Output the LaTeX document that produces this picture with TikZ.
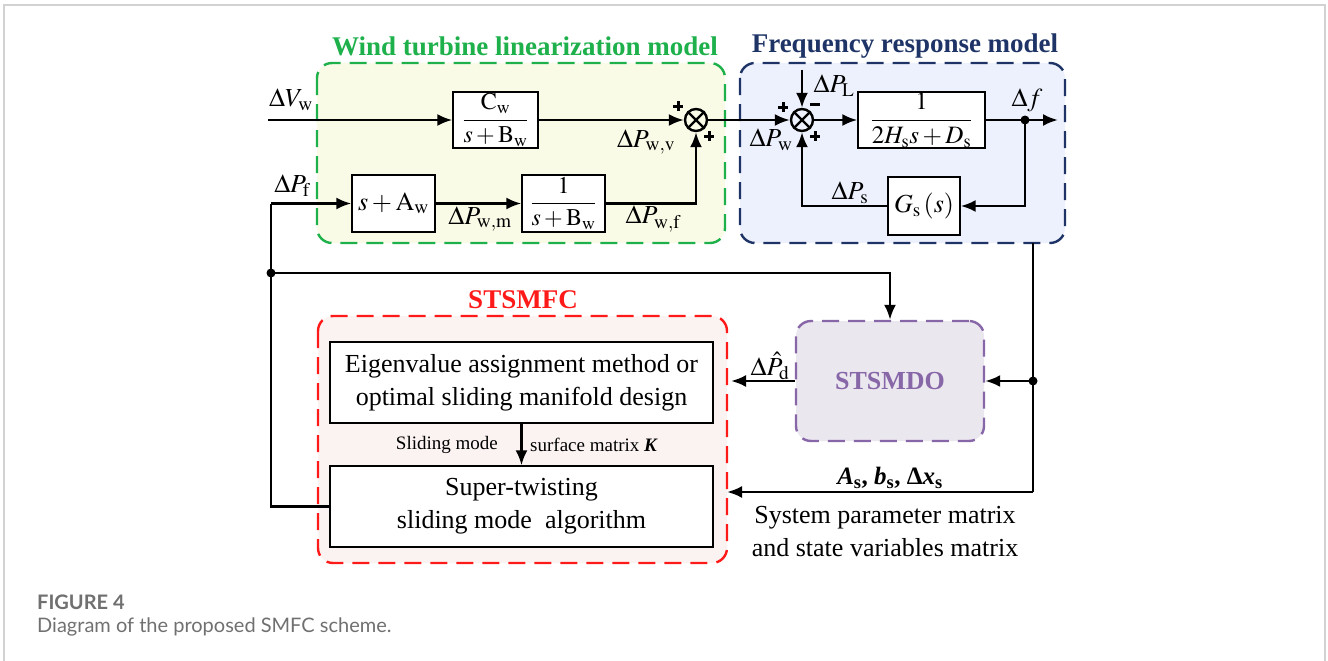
\documentclass[tikz,border=0pt]{standalone}
\usepackage{mathptmx}
\usepackage[no-math]{fontspec}
\setmainfont{Liberation Serif}
\newfontfamily\capfont{Lato}
\usetikzlibrary{arrows.meta}

\definecolor{wtgreen}{HTML}{1DB04B}
\definecolor{frnavy}{HTML}{1F3466}
\definecolor{smred}{HTML}{FF1A1A}
\definecolor{dopurple}{HTML}{8767A8}
\definecolor{wtfill}{HTML}{FAFBE7}
\definecolor{frfill}{HTML}{EDF1FD}
\definecolor{smfill}{HTML}{FBF3F2}
\definecolor{dofill}{HTML}{EBE7EF}
\definecolor{capgray}{HTML}{707070}
\definecolor{framegray}{HTML}{D2D2D2}

\tikzset{
  wire/.style={line width=2.5pt, line join=miter},
  sig/.style={wire, -{Latex[length=15pt,width=12pt]}},
  blk/.style={draw, line width=1.4pt, fill=white, inner sep=0pt, align=center},
  grp/.style={line width=2.4pt, dash pattern=on 17pt off 9pt, rounded corners=15pt},
  sumnode/.style={circle, draw, line width=2.4pt, minimum size=22pt, inner sep=0pt, fill=none},
  dot/.style={circle, fill, inner sep=0pt, minimum size=9pt},
  lbl/.style={inner sep=0pt, font=\fontsize{26}{28}\selectfont},
  ttl/.style={inner sep=0pt, font=\fontsize{27}{30}\selectfont\bfseries},
  txt/.style={inner sep=0pt, align=center, font=\fontsize{26}{33}\selectfont},
  plussign/.pic={\draw[line width=3pt] (-5,0) -- (5,0) (0,-5) -- (0,5);},
  minussign/.pic={\draw[line width=3pt] (-5,0) -- (5,0);},
}

\begin{document}
\begin{tikzpicture}[x=1pt, y=-1pt]
\useasboundingbox (0,0) rectangle (1328,661);

% page frame
\draw[framegray, line width=1.5pt] (4,661) -- (4,5) -- (1325,5) -- (1325,661);

% group frames
\draw[grp, wtgreen, fill=wtfill] (317,63) rectangle (725,243);
\draw[grp, frnavy, fill=frfill] (740,63) rectangle (1065,243);
\draw[grp, smred, fill=smfill] (318,316) rectangle (727,563);

\node[ttl, text=wtgreen] (ttlwt) at (525,46) {Wind turbine linearization model};
\node[ttl, text=frnavy] (ttlfr) at (905,46) {Frequency response model};
\node[ttl, text=smred] (ttlsm) at (523,300) {STSMFC};

% wind turbine blocks
\node[blk, minimum width=85pt, minimum height=56pt] (cw) at (495.5,120)
  {\fontsize{24}{28}\selectfont$\displaystyle\frac{\mathrm{C_w}}{s+\mathrm{B_w}}$};
\node[blk, minimum width=83pt, minimum height=57pt] (saw) at (393.5,203.5)
  {\fontsize{26}{28}\selectfont$s+\mathrm{A_w}$};
\node[blk, minimum width=83pt, minimum height=57pt] (bw) at (563.5,203.5)
  {\fontsize{24}{28}\selectfont$\displaystyle\frac{1}{s+\mathrm{B_w}}$};
\node[sumnode] (s1) at (696,120) {};
\draw[line width=2.2pt] (s1.north east) -- (s1.south west) (s1.north west) -- (s1.south east);

% frequency response blocks
\node[blk, minimum width=127pt, minimum height=56pt] (hs) at (921.5,120)
  {\fontsize{25}{28}\selectfont$\displaystyle\frac{1}{2H_\mathrm{s}s+D_\mathrm{s}}$};
\node[blk, minimum width=72pt, minimum height=58pt] (gs) at (924,206)
  {\fontsize{26}{28}\selectfont$G_\mathrm{s}\,(s)$};
\node[sumnode] (s2) at (802,120) {};
\draw[line width=2.2pt] (s2.north east) -- (s2.south west) (s2.north west) -- (s2.south east);

% controller and observer
\node[blk, minimum width=383pt, minimum height=81pt, txt] (eig) at (521.5,382.5)
  {Eigenvalue assignment method or\\optimal sliding manifold design};
\node[blk, minimum width=383pt, minimum height=81pt, txt] (st) at (521.5,506.5)
  {Super-twisting\\sliding mode\ \ algorithm};
\node[grp, draw=dopurple, fill=dofill, minimum width=188pt, minimum height=120pt,
      text=dopurple, font=\fontsize{26}{30}\selectfont\bfseries] (obs) at (890,381) {STSMDO};

% coordinates
\coordinate (vin) at (268,120);
\coordinate (pf) at (271,203.5);
\coordinate (pl) at (802,70);
\coordinate (fout) at (1058,120);
\coordinate (rb) at (1033,243);
\coordinate (rlow) at (1033,492);
\coordinate (smin) at (727,492);
\coordinate (smobs) at (731,381);

\node[dot] (df) at (1025,120) {};
\node[dot] (jt) at (271,273) {};
\node[dot] (jr) at (1033,381) {};

% signal paths
\draw[sig] (vin) -- (cw.west);
\draw[sig] (cw.east) -- (s1.west);
\draw[sig] (s1.east) -- (s2.west);
\draw[sig] (pf) -- (saw.west);
\draw[sig] (saw.east) -- (bw.west);
\draw[sig] (bw.east) -| (s1.south);
\draw[sig] (pl) -- (s2.north);
\draw[sig] (s2.east) -- (hs.west);
\draw[sig] (hs.east) -- (fout);
\draw[sig] (df.center) |- (gs.east);
\draw[sig] (gs.west) -| (s2.south);
\draw[wire] (st.west) -| (pf);
\draw[sig] (jt.center) -| (obs.north);
\draw[wire] (rb) -- (rlow);
\draw[sig] (rlow) -- (smin);
\draw[sig] (jr.center) -- (obs.east);
\draw[sig] (obs.west) -- (smobs);
\draw[sig] (eig.south) -- (st.north);

% signal labels
\node[lbl] (lvw) at (291,100) {$\Delta V_\mathrm{w}$};
\node[lbl] (lpf) at (292,186) {$\Delta P_\mathrm{f}$};
\node[lbl] (lpwv) at (646,142) {$\Delta P_\mathrm{w,v}$};
\node[lbl] (lpwm) at (480,219) {$\Delta P_\mathrm{w,m}$};
\node[lbl] (lpwf) at (653,219) {$\Delta P_\mathrm{w,f}$};
\node[lbl] (lpw) at (771,140) {$\Delta P_\mathrm{w}$};
\node[lbl] (lpl) at (834,86) {$\Delta P_\mathrm{L}$};
\node[lbl] (ldf) at (1027,100) {$\Delta f$};
\node[lbl] (lps) at (850,193) {$\Delta P_\mathrm{s}$};
\node[lbl] (lpd) at (770,366) {$\Delta \hat{P}_\mathrm{d}$};

% summing signs
\pic at (678,106) {plussign};
\pic at (709,136) {plussign};
\pic at (783,107) {plussign};
\pic at (815,104) {minussign};
\pic at (815,136) {plussign};

% text annotations
\node[inner sep=0pt, anchor=east, font=\fontsize{19}{22}\selectfont] (lsm) at (498,445) {Sliding mode};
\node[inner sep=0pt, anchor=west, font=\fontsize{19}{22}\selectfont] (lsk) at (530,445) {surface matrix \textbf{\textit{K}}};
\node[inner sep=0pt, font=\fontsize{25}{28}\selectfont\bfseries] (lab) at (890,478)
  {\textit{A}\textsubscript{s}, \textit{b}\textsubscript{s}, Δ\textit{x}\textsubscript{s}};
\node[txt] (lsys) at (885,532) {System parameter matrix\\and state variables matrix};

% caption
\node[inner sep=0pt, anchor=west, text=capgray, font=\capfont\fontsize{20}{22}\selectfont\bfseries] (fig) at (37,602) {FIGURE 4};
\node[inner sep=0pt, anchor=west, text=capgray, font=\capfont\fontsize{20}{22}\selectfont] (cap) at (37,627) {Diagram of the proposed SMFC scheme.};
\end{tikzpicture}
\end{document}
